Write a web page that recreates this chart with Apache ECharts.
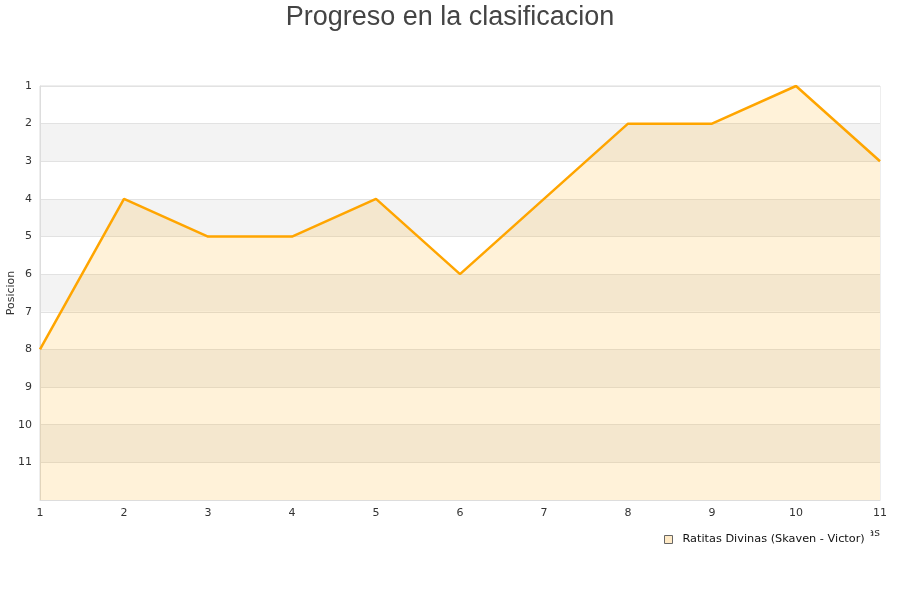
<!DOCTYPE html>
<html>
<head>
<meta charset="utf-8">
<script src="https://cdn.jsdelivr.net/npm/echarts@6/dist/echarts.min.js"></script>
<style>html,body{margin:0;padding:0;background:#fff}#c{width:900px;height:600px}</style>
</head>
<body>
<div id="c"></div>
<script>
var titleText = 'Progreso en la clasificacion';
var jornadas = ['1','2','3','4','5','6','7','8','9','10','11'];
var posiciones = [8,4,5,5,4,6,4,2,2,1,3];
var seriesName = 'Ratitas Divinas (Skaven - Victor)';
var yAxisName = 'Posicion';
var xAxisName = 'Jornadas';

var chart = echarts.init(document.getElementById('c'));
chart.setOption({
  animation: false,
  backgroundColor: '#fff',
  title: {
    text: titleText,
    left: 'center',
    top: -1,
    textStyle: {fontFamily: 'Liberation Sans', fontSize: 27, fontWeight: 'normal', color: '#444'}
  },
  grid: {left: 40, right: 20, top: 86, bottom: 100, containLabel: false, outerBoundsMode: 'none', show: true, borderColor: '#ddd', borderWidth: 1},
  legend: {
    data: [{name: seriesName, icon: 'rect'}],
    left: 660,
    top: 527,
    padding: [7, 6, 4, 4],
    backgroundColor: '#fff',
    z: 10,
    itemWidth: 8,
    itemHeight: 8,
    itemStyle: {color: '#ffeac6', borderColor: '#666', borderWidth: 1},
    textStyle: {fontFamily: 'DejaVu Sans', fontSize: 11.3, color: '#111', padding: [0,0,0,5]}
  },
  xAxis: {
    type: 'category',
    data: jornadas,
    boundaryGap: false,
    name: xAxisName,
    nameLocation: 'end',
    nameGap: 0,
    nameMoveOverlap: false,
    nameTextStyle: {fontFamily: 'DejaVu Sans', fontSize: 11, color: '#333', align: 'right', verticalAlign: 'top', padding: [28, 0, 0, 0]},
    axisLine: {show: true, lineStyle: {color: '#ddd'}},
    axisTick: {show: false},
    axisLabel: {fontFamily: 'DejaVu Sans', fontSize: 11, color: '#333', margin: 8},
    splitLine: {show: false}
  },
  yAxis: {
    type: 'value',
    inverse: true,
    min: 1,
    max: 12,
    interval: 1,
    name: yAxisName,
    nameLocation: 'middle',
    nameGap: 23,
    nameMoveOverlap: false,
    nameTextStyle: {fontFamily: 'DejaVu Sans', fontSize: 11, color: '#333'},
    axisLine: {show: true, lineStyle: {color: '#ddd'}},
    axisTick: {show: false},
    axisLabel: {
      fontFamily: 'DejaVu Sans', fontSize: 11, color: '#333', margin: 8,
      formatter: function (v) { return v === 12 ? '' : String(v); }
    },
    splitLine: {show: true, lineStyle: {color: '#e2e2e2'}},
    splitArea: {show: true, areaStyle: {color: ['rgba(255,255,255,1)', 'rgba(243,243,243,1)']}}
  },
  series: [{
    name: seriesName,
    type: 'line',
    data: posiciones,
    showSymbol: false,
    symbol: 'none',
    lineStyle: {color: '#ffa500', width: 2.5},
    itemStyle: {color: '#ffa500'},
    areaStyle: {color: 'rgba(255,168,0,0.21)', origin: 'end'}
  }]
});
</script>
</body>
</html>
